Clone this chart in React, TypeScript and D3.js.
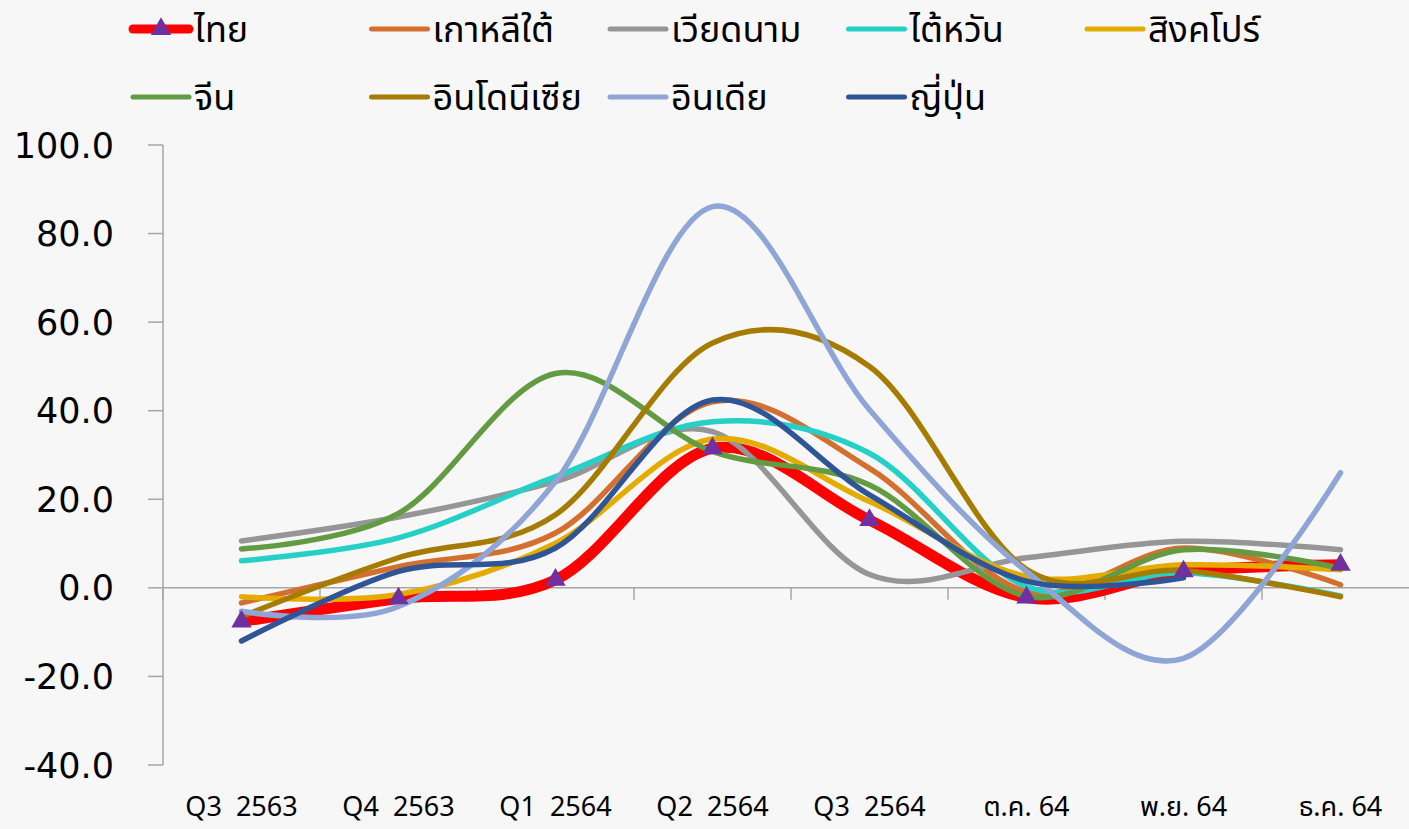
import { useMemo } from "react"
import * as d3 from "d3"

const categories = ["Q3  2563", "Q4  2563", "Q1  2564", "Q2  2564", "Q3  2564", "ต.ค. 64", "พ.ย. 64", "ธ.ค. 64"]
const yTicks = [-40, -20, 0, 20, 40, 60, 80, 100]

const seriesNames = ["ไทย", "เกาหลีใต้", "เวียดนาม", "ไต้หวัน", "สิงคโปร์", "จีน", "อินโดนีเซีย", "อินเดีย", "ญี่ปุ่น"]
const seriesColors = ["#FF0000", "#D4702F", "#969696", "#25D0C7", "#E5AC00", "#629B41", "#A67C00", "#8FA5D6", "#2F5597"]

const thai = [-7.6, -2.4, 1.8, 31.5, 15.3, -2.2, 3.7, 5.2]
const korea = [-3.4, 4.8, 12.4, 42.0, 27.0, -0.8, 9.0, 0.7]
const vietnam = [10.6, 16.0, 24.0, 35.3, 3.0, 6.8, 10.5, 8.6]
const taiwan = [6.1, 11.3, 25.1, 37.5, 30.4, 0.3, 3.4, -1.8]
const singapore = [-2.0, -1.5, 10.1, 33.6, 19.5, 2.6, 5.2, 4.1]
const china = [8.8, 16.8, 48.4, 30.8, 23.2, -1.9, 8.6, 4.4]
const indonesia = [-6.5, 6.8, 16.5, 55.3, 50.0, 4.2, 3.9, -2.0]
const india = [-5.3, -4.2, 24.0, 86.1, 40.2, 3.7, -15.9, 26.0]
const japan = [-12.0, 3.7, 9.0, 42.4, 21.0, 1.5, 2.3, null]

const seriesValues = [thai, korea, vietnam, taiwan, singapore, china, indonesia, india, japan]

const W = 1409
const H = 829
const AXIS_COLOR = "#A6A6A6"
const THAI_FONT = "'Noto Sans Thai', 'Noto Sans', 'DejaVu Sans', sans-serif"

const triangle = d3.symbol().type(d3.symbolTriangle).size(180)

const App = () => {
  const x = useMemo(() => d3.scaleBand().domain(categories).range([163, 163 + 157 * 8]), [])
  const y = useMemo(() => d3.scaleLinear().domain([-40, 100]).range([765, 145]), [])

  const line = d3.line<number | null>()
    .defined(d => d != null)
    .x((_, i) => (x(categories[i]) as number) + x.bandwidth() / 2)
    .y(d => y(d as number))
    .curve(d3.curveCatmullRom.alpha(0))

  return (
    <svg width={W} height={H} style={{ position: "absolute", left: 0, top: 0, background: "#F7F7F7" }}>
      <rect width={W} height={H} fill="#F7F7F7" />

      {/* y axis */}
      <line x1={163} x2={163} y1={y(100)} y2={y(-40)} stroke={AXIS_COLOR} strokeWidth={1.5} />
      {yTicks.map(t => (
        <g key={t} transform={`translate(0, ${y(t)})`}>
          <line x1={148} x2={163} stroke={AXIS_COLOR} strokeWidth={1.5} />
          <text x={114} dy="0.36em" textAnchor="end" fontSize={35} fontFamily="'DejaVu Sans', sans-serif" fill="#000">
            {t.toFixed(1)}
          </text>
        </g>
      ))}

      {/* x axis */}
      <line x1={163} x2={W} y1={y(0)} y2={y(0)} stroke={AXIS_COLOR} strokeWidth={1.5} />
      {categories.map(c => (
        <g key={c}>
          <line x1={x(c)} x2={x(c)} y1={y(0)} y2={y(0) + 12} stroke={AXIS_COLOR} strokeWidth={1.5} />
          <text x={(x(c) as number) + x.bandwidth() / 2} y={816} textAnchor="middle" fontSize={27}
            fontFamily={THAI_FONT} fill="#000" style={{ whiteSpace: "pre" }}>
            {c}
          </text>
        </g>
      ))}

      {/* lines */}
      {seriesValues.map((vals, si) => (
        <path key={si} d={line(vals) || ""} fill="none" stroke={seriesColors[si]}
          strokeWidth={si === 0 ? 11 : 5.5} strokeLinecap="round" strokeLinejoin="round" />
      ))}
      {thai.map((v, i) => (
        <path key={i} d={triangle() || ""} fill="#7030A0"
          transform={`translate(${(x(categories[i]) as number) + x.bandwidth() / 2}, ${y(v)})`} />
      ))}

      {/* legend */}
      {seriesNames.map((name, i) => {
        const col = i % 5
        const row = Math.floor(i / 5)
        const lx = 133 + col * 238.5
        const ly = row === 0 ? 29 : 97
        return (
          <g key={name} transform={`translate(${lx}, ${ly})`}>
            <line x1={0} x2={56} stroke={seriesColors[i]} strokeWidth={i === 0 ? 9 : 5} strokeLinecap="round" />
            {i === 0 && <path d={triangle() || ""} fill="#7030A0" transform="translate(28, 0)" />}
            <text x={61} dy="0.35em" fontSize={36} fontFamily={THAI_FONT} fill="#000">{name}</text>
          </g>
        )
      })}
    </svg>
  )
}

export default App
